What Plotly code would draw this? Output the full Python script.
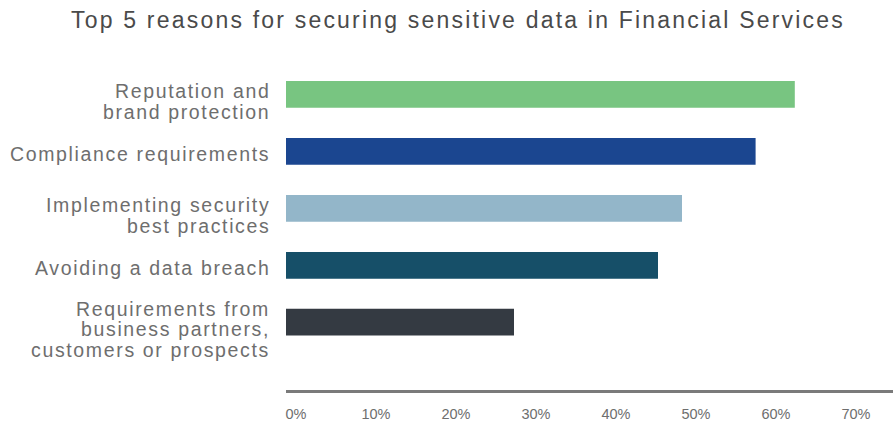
import plotly.graph_objects as go

categories = [
    "Reputation and<br>brand protection",
    "Compliance requirements",
    "Implementing security<br>best practices",
    "Avoiding a data breach",
    "Requirements from<br>business partners,<br>customers or prospects",
]
values = [63.6, 58.7, 49.5, 46.5, 28.5]
colors = ["#78C581", "#1B4690", "#93B6C9", "#164F68", "#343A42"]
tick_vals = [0, 10, 20, 30, 40, 50, 60, 70]
tick_text = ["0%", "10%", "20%", "30%", "40%", "50%", "60%", "70%"]
title = "Top 5 reasons for securing sensitive data in Financial Services"

FONT = "Liberation Sans, Arial, Helvetica, sans-serif"
LABEL_COLOR = "#6e6e6e"

fig = go.Figure(
    go.Bar(
        x=values,
        y=list(range(len(categories))),
        orientation="h",
        marker=dict(color=colors, line=dict(width=0)),
        width=0.47,
        hoverinfo="skip",
    )
)

# category labels as per-line annotations (tight line spacing, tracked text)
LINE_GAP = 20.3
annotations = []
for i, lab in enumerate(categories):
    lines = lab.split("<br>")
    n = len(lines)
    offset = 3 if n == 1 else 7
    for j, line in enumerate(lines):
        dy = offset + (j - (n - 1) / 2) * LINE_GAP
        annotations.append(
            dict(
                x=0,
                xref="paper",
                y=i,
                yref="y",
                xanchor="right",
                yanchor="middle",
                xshift=-14,
                yshift=-dy,
                showarrow=False,
                text='<span style="letter-spacing:1.65px">' + line + "</span>",
                font=dict(family=FONT, size=19.5, color=LABEL_COLOR),
            )
        )

fig.update_layout(
    width=893,
    height=423,
    margin=dict(l=286, r=0, t=66, b=33),
    paper_bgcolor="white",
    plot_bgcolor="white",
    showlegend=False,
    font=dict(family=FONT, color=LABEL_COLOR),
    annotations=annotations,
    title=dict(
        text='<span style="letter-spacing:2.2px">' + title + "</span>",
        x=458 / 893,
        xanchor="center",
        xref="container",
        y=1 - 20 / 423,
        yanchor="middle",
        yref="container",
        font=dict(family=FONT, size=23, color="#4a4a4a"),
    ),
)

fig.update_xaxes(
    range=[0, 607 / 8.0],
    tickvals=tick_vals,
    ticktext=tick_text,
    showgrid=False,
    zeroline=False,
    showline=True,
    linecolor="#7a7a7a",
    linewidth=3,
    ticks="",
    tickfont=dict(family=FONT, size=14.5, color="#6e6e6e"),
    ticklabelshift=10,
    ticklabelstandoff=9,
    fixedrange=True,
)
fig.update_yaxes(
    range=[5.19, -0.5],
    showgrid=False,
    zeroline=False,
    showline=False,
    showticklabels=False,
    ticks="",
    fixedrange=True,
)

fig.write_html("out.html")
